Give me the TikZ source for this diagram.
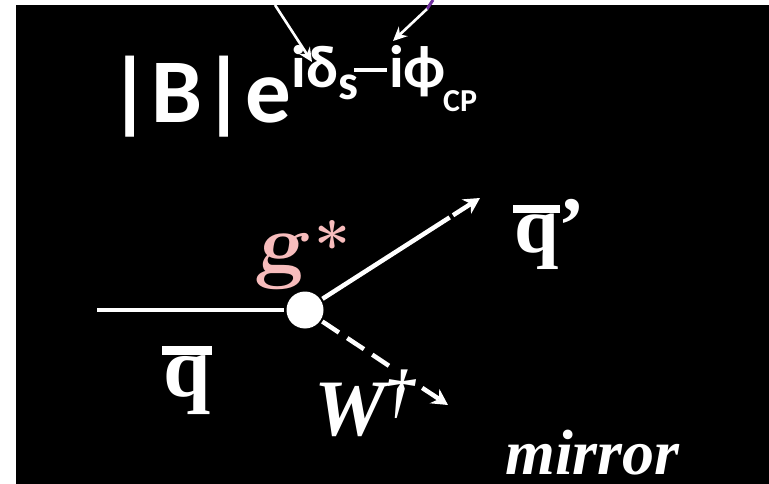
\documentclass[tikz,border=0pt]{standalone}
\usepackage{fontspec}
\usetikzlibrary{arrows.meta}
\newfontfamily\calibri{Carlito}
\newfontfamily\timesrm{Liberation Serif}
\newcommand{\barq}{\ooalign{\hidewidth\rule[0.485em]{0.59em}{0.1em}\hidewidth\cr q\cr}}

\begin{document}
\begin{tikzpicture}[x=1pt,y=-1pt,line width=4.5pt,
  leg/.style={white,line width=4.5pt},
  ptr/.style={white,line width=2.6pt,-{Stealth[length=14pt,width=13pt]}},
  big/.style={text=white,inner sep=0pt,anchor=base west}]
  \definecolor{gluonpink}{RGB}{247,188,188}
  \definecolor{linkviolet}{RGB}{112,48,160}
  \useasboundingbox (0,0) rectangle (769,484);
  \fill[white] (0,0) rectangle (769,484);
  \fill[black] (16,5) rectangle (769,484);

  \node[circle,fill=white,minimum size=37pt,inner sep=0pt] (vtx) at (305,310) {};
  \coordinate (qin) at (97,310);
  \coordinate (qout) at (480,198);
  \coordinate (wout) at (448,405);
  \draw[leg] (qin) -- (vtx);
  \draw[leg,dash pattern=on 151pt off 4pt on 60pt,
    -{Stealth[length=16pt,width=17pt]}] (vtx) -- (qout);
  \draw[leg,dash pattern=on 20pt off 10pt,
    -{Stealth[length=16pt,width=17pt]}] (vtx) -- (wout);

  \node[big,font=\calibri\bfseries] (amp) at (106,123)
    {\fontsize{91}{91}\selectfont|B|e\raisebox{35pt}{\fontsize{60}{60}\selectfont
    iδ\raisebox{-12pt}{\fontsize{50}{50}\selectfont s}\kern-4pt\raisebox{16pt}{\rule{33pt}{3.5pt}}\kern2pt
    iϕ\kern-3pt\raisebox{-24pt}{\fontsize{32}{32}\selectfont CP}}};
  \coordinate (dtail) at (275,5);
  \coordinate (dhead) at (312,62);
  \coordinate (vtop) at (433,0);
  \coordinate (phtail) at (427,9);
  \coordinate (phhead) at (393,41);
  \draw[ptr] (dtail) -- (dhead);
  \draw[linkviolet,line width=3pt] (vtop) -- (phtail);
  \draw[ptr] (phtail) -- (phhead);

  \node[big,text=gluonpink,font=\bfseries\fontsize{86}{86}\selectfont] (gstar)
    at (253,272) {\slshape g\kern10pt\upshape\fontsize{64}{64}\selectfont\raisebox{3pt}{*}};
  \node[big,font=\timesrm\bfseries\fontsize{80}{80}\selectfont] (qbarp) at (512,252) {\barq’};
  \node[big,font=\timesrm\bfseries\fontsize{85}{85}\selectfont] (qbar) at (161,396) {\barq};
  \node[big,fill=black,font=\timesrm\bfseries\itshape\fontsize{80}{80}\selectfont] (wlab)
    at (312,435) {W\raisebox{24pt}{\fontsize{60}{60}\selectfont\textdagger}};
  \node[big,font=\timesrm\bfseries\itshape\fontsize{64}{64}\selectfont] (mir)
    at (503,474) {mirror};
\end{tikzpicture}
\end{document}
